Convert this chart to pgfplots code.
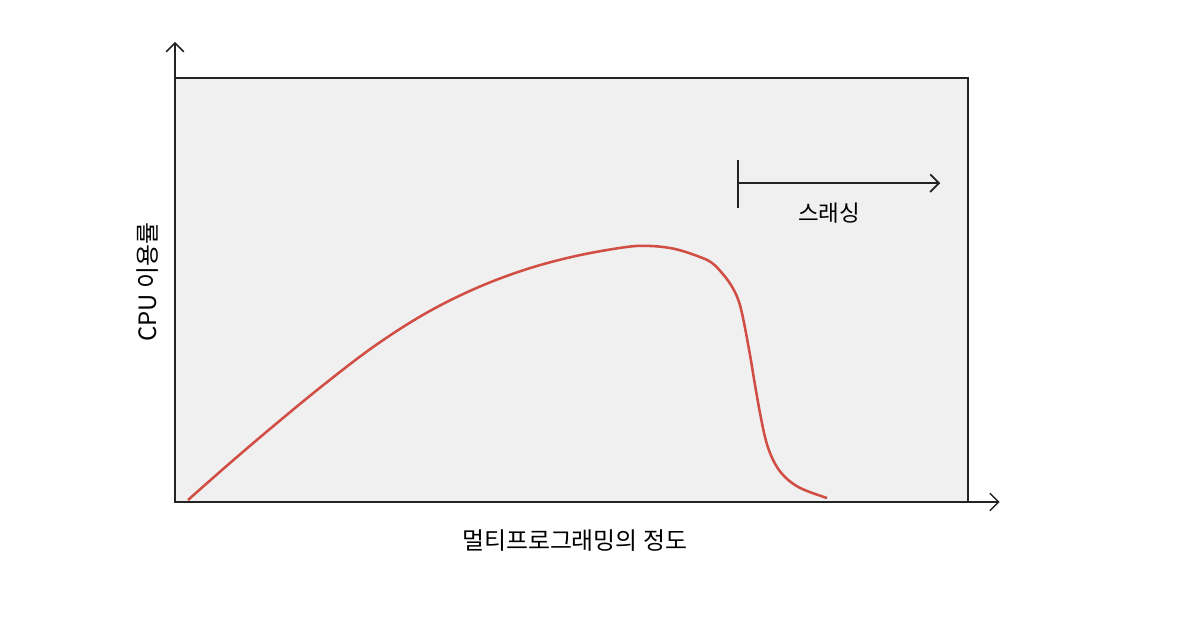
\documentclass[border=0pt]{standalone}
\usepackage{pgfplots}
\pgfplotsset{compat=1.18}
\usepackage{fontspec}
\setmainfont{Noto Sans CJK KR}
\usetikzlibrary{arrows.meta}
\definecolor{curvered}{RGB}{208,78,68}
\definecolor{bggray}{RGB}{240,240,240}
\definecolor{edgegray}{RGB}{35,35,35}
\begin{document}
\begin{tikzpicture}
\path[use as bounding box] (-43.75mm,-30.75mm) rectangle (253.25mm,125.5mm);
\begin{axis}[
  at={(0,0)}, anchor=south west,
  scale only axis,
  width=198.25mm, height=106mm,
  xmin=0, xmax=100, ymin=0, ymax=100,
  xtick=\empty, ytick=\empty,
  clip=false,
  axis line style={draw=edgegray, line width=1.6pt},
  axis background/.style={fill=bggray},
  xlabel={멀티프로그래밍의 정도},
  ylabel={CPU 이용률},
  xlabel style={at={(axis description cs:0.504,-0.09)}, anchor=center, font=\fontsize{17}{19}\selectfont},
  ylabel style={at={(axis description cs:-0.034,0.519)}, anchor=center, rotate=0, font=\fontsize{17}{19}\selectfont},
]
\addplot[curvered, line width=1.8pt, smooth, tension=0.6] coordinates {
(1.64,0.47) (6.94,9.20) (12.61,18.23) (18.92,27.90) (25.22,36.86)
(31.53,44.41) (37.83,50.31) (44.14,54.79) (50.44,57.97) (56.75,60.09)
(59.9,60.38) (63.05,59.67) (66.20,57.78) (67.72,56.37) (68.98,54.0)
(70.11,51.18) (70.99,47.88) (71.63,43.40) (72.51,34.67) (73.14,27.59) (73.77,20.99)
(74.40,15.33) (75.03,11.56) (75.91,8.25) (76.92,5.90) (78.18,4.01)
(79.70,2.59) (82.22,0.94)
};
% axis arrows
\draw[edgegray, line width=1.1pt, -{Straight Barb[length=2.2mm,width=4.4mm]}] (axis cs:0,100) -- (axis cs:0,108.5);
\draw[edgegray, line width=1.1pt, -{Straight Barb[length=2.2mm,width=4.4mm]}] (axis cs:100,0) -- (axis cs:104.0,0);
% thrashing marker
\draw[edgegray, line width=1.3pt] (axis cs:71.0,69.3) -- (axis cs:71.0,80.7);
\draw[edgegray, line width=1.3pt, -{Straight Barb[length=2.2mm,width=4.4mm]}] (axis cs:71.0,75.2) -- (axis cs:96.5,75.2);
\node[font=\fontsize{16}{18}\selectfont] at (axis cs:82.5,68.2) {스래싱};
\end{axis}
\end{tikzpicture}
\end{document}
